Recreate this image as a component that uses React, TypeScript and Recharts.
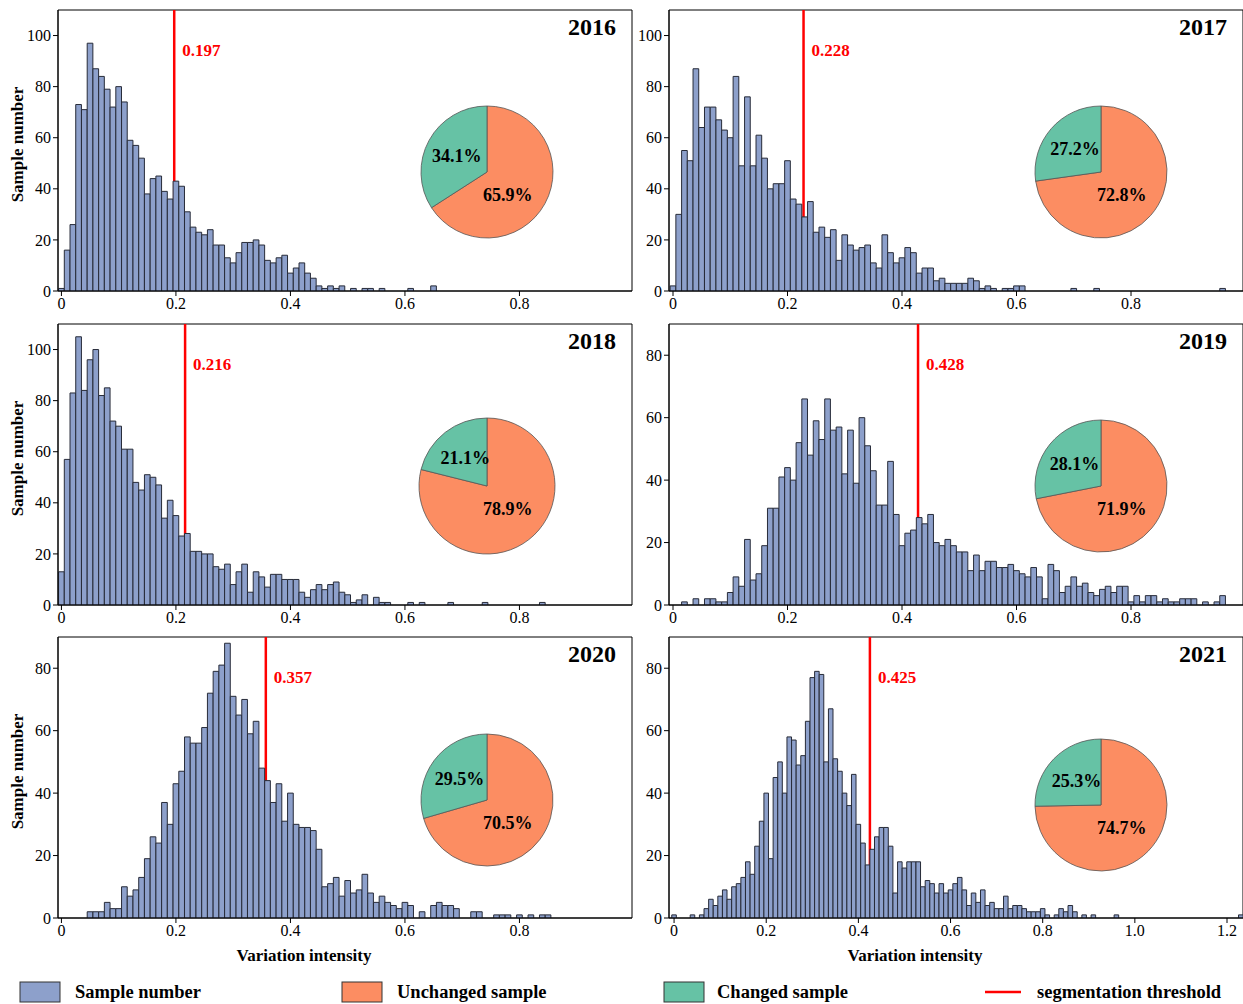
import React from 'react';
import { BarChart, Bar, XAxis, YAxis, ReferenceLine, ReferenceArea, PieChart, Pie, Cell } from 'recharts';

const FONT = "'Times New Roman', 'Liberation Serif', serif";
const BLUE = '#8DA0CB';
const ORANGE = '#FC8D62';
const GREEN = '#66C2A5';
const RED = '#FF0000';
const EDGE = '#272b38';

// ---- data ----
const years = ['2016', '2017', '2018', '2019', '2020', '2021'];
const thresholds = [0.197, 0.228, 0.216, 0.428, 0.357, 0.425];
const changedPct = [34.1, 27.2, 21.1, 28.1, 29.5, 25.3];
const unchangedPct = [65.9, 72.8, 78.9, 71.9, 70.5, 74.7];
const binWidth = 0.01;

const counts2016 = [
  1, 16, 26, 73, 71, 97, 87, 84, 79, 72,
  80, 74, 59, 57, 52, 38, 44, 45, 39, 36,
  43, 41, 31, 25, 23, 22, 24, 18, 18, 13,
  11, 15, 19, 19, 20, 18, 12, 11, 13, 14,
  7, 9, 11, 7, 5, 2, 1, 2, 1, 2,
  0, 1, 0, 1, 1, 0, 1, 0, 0, 0,
  0, 1, 0, 0, 0, 2,
];
const counts2017 = [
  2, 30, 55, 51, 87, 64, 72, 72, 67, 63,
  60, 84, 49, 76, 49, 61, 52, 40, 42, 42,
  51, 36, 34, 29, 35, 23, 25, 21, 24, 12,
  22, 18, 16, 17, 18, 11, 9, 22, 15, 11,
  13, 17, 15, 7, 9, 9, 4, 5, 3, 3,
  3, 3, 5, 4, 1, 2, 1, 0, 1, 1,
  2, 2, 0, 0, 0, 0, 0, 0, 0, 0,
  1, 0, 0, 0, 1, 0, 0, 0, 0, 0,
  0, 0, 0, 0, 0, 0, 0, 0, 0, 0,
  0, 0, 0, 0, 0, 0, 1,
];
const counts2018 = [
  13, 57, 83, 105, 84, 96, 100, 82, 85, 72,
  70, 61, 61, 48, 45, 51, 50, 47, 34, 41,
  35, 27, 28, 21, 21, 20, 20, 15, 14, 16,
  8, 13, 16, 5, 13, 11, 7, 12, 12, 10,
  10, 10, 5, 3, 6, 8, 6, 8, 9, 5,
  4, 1, 2, 4, 0, 3, 1, 1, 0, 0,
  0, 1, 0, 1, 0, 0, 0, 0, 1, 0,
  0, 0, 0, 0, 1, 0, 0, 0, 0, 0,
  0, 0, 0, 0, 1,
];
const counts2019 = [
  0, 0, 1, 0, 2, 0, 2, 2, 1, 1,
  4, 9, 6, 21, 8, 10, 19, 31, 31, 41,
  44, 40, 52, 66, 48, 59, 53, 66, 56, 57,
  42, 56, 39, 60, 51, 43, 32, 32, 46, 29,
  19, 23, 24, 28, 26, 29, 20, 19, 21, 19,
  17, 17, 11, 16, 11, 14, 14, 12, 12, 13,
  11, 10, 9, 12, 9, 2, 13, 11, 4, 6,
  9, 6, 7, 4, 3, 5, 6, 4, 6, 6,
  1, 3, 1, 3, 3, 1, 2, 1, 1, 2,
  2, 2, 0, 1, 0, 1, 3,
];
const counts2020 = [
  0, 0, 0, 0, 0, 2, 2, 2, 5, 3,
  3, 10, 7, 9, 13, 19, 26, 24, 37, 30,
  43, 47, 58, 56, 56, 61, 72, 79, 81, 88,
  71, 65, 70, 59, 63, 48, 44, 37, 43, 31,
  40, 30, 29, 29, 28, 22, 10, 11, 13, 7,
  12, 8, 9, 14, 8, 5, 7, 5, 4, 3,
  5, 4, 0, 2, 0, 4, 5, 4, 4, 3,
  0, 0, 2, 2, 0, 0, 1, 1, 1, 0,
  1, 0, 1, 0, 1, 1,
];
const counts2021 = [
  1, 0, 0, 0, 1, 0, 1, 3, 6, 4,
  7, 9, 6, 10, 11, 13, 18, 14, 23, 31,
  40, 19, 45, 50, 40, 58, 57, 49, 52, 63,
  77, 79, 78, 50, 67, 51, 47, 40, 36, 46,
  30, 24, 17, 22, 26, 29, 29, 23, 8, 18,
  16, 18, 18, 18, 10, 12, 11, 8, 11, 8,
  9, 11, 13, 9, 4, 8, 5, 9, 4, 5,
  3, 3, 7, 3, 4, 4, 3, 2, 2, 2,
  3, 1, 0, 1, 3, 2, 4, 2, 0, 1,
  0, 1, 0, 0, 0, 0, 1, 0, 0, 0,
  0, 0, 0, 0, 0, 0, 0, 0, 0, 0,
  0, 0, 0, 0, 0, 0, 0, 0, 0, 0,
  0, 0, 0, 1,
];

const xTicksShort = [0, 0.2, 0.4, 0.6, 0.8];
const xTicksLong = [0, 0.2, 0.4, 0.6, 0.8, 1.0, 1.2];
const yTicksHigh = [0, 20, 40, 60, 80, 100];
const yTicksLow = [0, 20, 40, 60, 80];

// ---- layout ----
const PLOT_W = 574;
const PLOT_H = 281;

const panels = [
  { counts: counts2016, left: 58, top: 10, domain: [-0.006, 0.9966], ticks: xTicksShort, yMax: 110, yTicks: yTicksHigh, pie: [487, 172, 66] },
  { counts: counts2017, left: 669, top: 10, domain: [-0.007, 0.9956], ticks: xTicksShort, yMax: 110, yTicks: yTicksHigh, pie: [1101, 172, 66] },
  { counts: counts2018, left: 58, top: 324, domain: [-0.006, 0.9966], ticks: xTicksShort, yMax: 110, yTicks: yTicksHigh, pie: [487, 486, 68] },
  { counts: counts2019, left: 669, top: 324, domain: [-0.007, 0.9956], ticks: xTicksShort, yMax: 90, yTicks: yTicksLow, pie: [1101, 486, 66] },
  { counts: counts2020, left: 58, top: 637, domain: [-0.006, 0.9966], ticks: xTicksShort, yMax: 90, yTicks: yTicksLow, pie: [487, 800, 66] },
  { counts: counts2021, left: 669, top: 637, domain: [-0.011, 1.2347], ticks: xTicksLong, yMax: 90, yTicks: yTicksLow, pie: [1101, 805, 66] },
];

const tickStyle = { fill: '#000', fontSize: 16, fontFamily: FONT };
const fmtX = (v: number) => (v === 0 ? '0' : v.toFixed(1));

const yLabel = (props: any) => {
  const vb = props.viewBox;
  const x = vb.x + 17;
  const y = vb.y + vb.height / 2 - 6;
  return (
    <text x={x} y={y} transform={`rotate(-90, ${x}, ${y})`} textAnchor="middle" dominantBaseline="central"
      fontFamily={FONT} fontSize={17} fontWeight="bold" fill="#000">
      Sample number
    </text>
  );
};

const xLabel = (props: any) => {
  const vb = props.viewBox;
  return (
    <text x={vb.x + 246} y={vb.y + 43} textAnchor="middle" fontFamily={FONT} fontSize={17} fontWeight="bold" fill="#000">
      Variation intensity
    </text>
  );
};

const yearLabel = (year: string) => (props: any) => {
  const vb = props.viewBox;
  return (
    <text x={vb.x + vb.width - 16} y={vb.y + 25} textAnchor="end" fontFamily={FONT} fontSize={24} fontWeight="bold" fill="#000">
      {year}
    </text>
  );
};

const thresholdLabel = (value: number) => (props: any) => {
  const vb = props.viewBox;
  return (
    <text x={vb.x + 8} y={vb.y + 46} fontFamily={FONT} fontSize={17} fontWeight="bold" fill={RED}>
      {value.toFixed(3)}
    </text>
  );
};

// changed-sample label sits on the wedge's mid angle, the large wedge's label
// sits low-right of centre as in the original figure
const pieLabel = (p: any) => {
  const RAD = Math.PI / 180;
  const big = p.index === 0;
  const angle = big ? -48 : p.midAngle;
  const r = big ? 31 : p.outerRadius * 0.52;
  const x = p.cx + r * Math.cos(-angle * RAD);
  const y = p.cy + r * Math.sin(-angle * RAD);
  const v = p.value ?? p.payload?.value;
  return (
    <text x={x} y={y} textAnchor="middle" dominantBaseline="central" fontFamily={FONT} fontSize={18} fontWeight="bold" fill="#000">
      {v.toFixed(1)}%
    </text>
  );
};

function Panel({ idx }: { idx: number }) {
  const p = panels[idx];
  const firstCol = idx % 2 === 0;
  const lastRow = idx >= 4;
  const yW = firstCol ? 58 : 35;
  const xH = lastRow ? 52 : 30;
  const data = p.counts.map((n, i) => ({ x: i * binWidth, n }));
  const binPx = (PLOT_W / (p.domain[1] - p.domain[0])) * binWidth;

  return (
    <div style={{ position: 'absolute', left: p.left - yW, top: p.top - 2 }}>
      <BarChart width={yW + PLOT_W + 2} height={2 + PLOT_H + xH} data={data}
        margin={{ top: 2, right: 2, left: 0, bottom: 0 }} style={{ fontFamily: FONT }}>
        <XAxis xAxisId="b" type="number" dataKey="x" domain={p.domain} allowDataOverflow ticks={p.ticks} interval={0}
          tickFormatter={fmtX} height={xH} stroke="#000" tick={tickStyle} tickSize={5}
          label={lastRow ? xLabel : undefined} />
        <YAxis yAxisId="l" type="number" domain={[0, p.yMax]} allowDataOverflow ticks={p.yTicks} interval={0}
          width={yW} stroke="#000" tick={tickStyle} tickSize={5} label={firstCol ? yLabel : undefined} />
        <ReferenceArea xAxisId="b" yAxisId="l" x1={p.domain[0]} x2={p.domain[1]} y1={0} y2={p.yMax}
          fill="none" stroke="#000" strokeWidth={1} ifOverflow="visible" label={yearLabel(years[idx])} />
        <ReferenceLine xAxisId="b" yAxisId="l" x={thresholds[idx]} stroke={RED} strokeWidth={2.5}
          label={thresholdLabel(thresholds[idx])} zIndex={250} />
        <Bar xAxisId="b" yAxisId="l" dataKey="n" fill={BLUE} stroke={EDGE} strokeWidth={1}
          barSize={binPx - 0.05} isAnimationActive={false} />
      </BarChart>
    </div>
  );
}

function PanelPie({ idx }: { idx: number }) {
  const [cx, cy, r] = panels[idx].pie;
  const pieData = [
    { name: 'Unchanged sample', value: unchangedPct[idx] },
    { name: 'Changed sample', value: changedPct[idx] },
  ];
  return (
    <div style={{ position: 'absolute', left: cx - 80, top: cy - 80 }}>
      <PieChart width={160} height={160} margin={{ top: 0, right: 0, bottom: 0, left: 0 }}>
        <Pie data={pieData} dataKey="value" cx={80} cy={80} outerRadius={r} startAngle={90} endAngle={-270}
          stroke="#555" strokeWidth={0.8} label={pieLabel} labelLine={false} isAnimationActive={false}>
          <Cell fill={ORANGE} />
          <Cell fill={GREEN} />
        </Pie>
      </PieChart>
    </div>
  );
}

function BottomLegend() {
  const textProps = { fontFamily: FONT, fontSize: 18.5, fontWeight: 'bold' as const, fill: '#000' };
  return (
    <svg width={1243} height={40} style={{ position: 'absolute', left: 0, top: 970 }}>
      <rect x={20} y={12} width={40} height={20} fill={BLUE} stroke="#333" strokeWidth={1} />
      <text x={75} y={28} {...textProps}>Sample number</text>
      <rect x={342} y={12} width={40} height={20} fill={ORANGE} stroke="#333" strokeWidth={1} />
      <text x={397} y={28} {...textProps}>Unchanged sample</text>
      <rect x={664} y={12} width={40} height={20} fill={GREEN} stroke="#333" strokeWidth={1} />
      <text x={717} y={28} {...textProps}>Changed sample</text>
      <line x1={985} x2={1021} y1={22} y2={22} stroke={RED} strokeWidth={2.5} />
      <text x={1037} y={28} {...textProps}>segmentation threshold</text>
    </svg>
  );
}

export default function App() {
  return (
    <div style={{ position: 'absolute', left: 0, top: 0, width: 1243, height: 1004, background: '#fff', overflow: 'hidden', fontFamily: FONT }}>
      {panels.map((_, i) => (
        <Panel key={`bar-${i}`} idx={i} />
      ))}
      {panels.map((_, i) => (
        <PanelPie key={`pie-${i}`} idx={i} />
      ))}
      <BottomLegend />
    </div>
  );
}
